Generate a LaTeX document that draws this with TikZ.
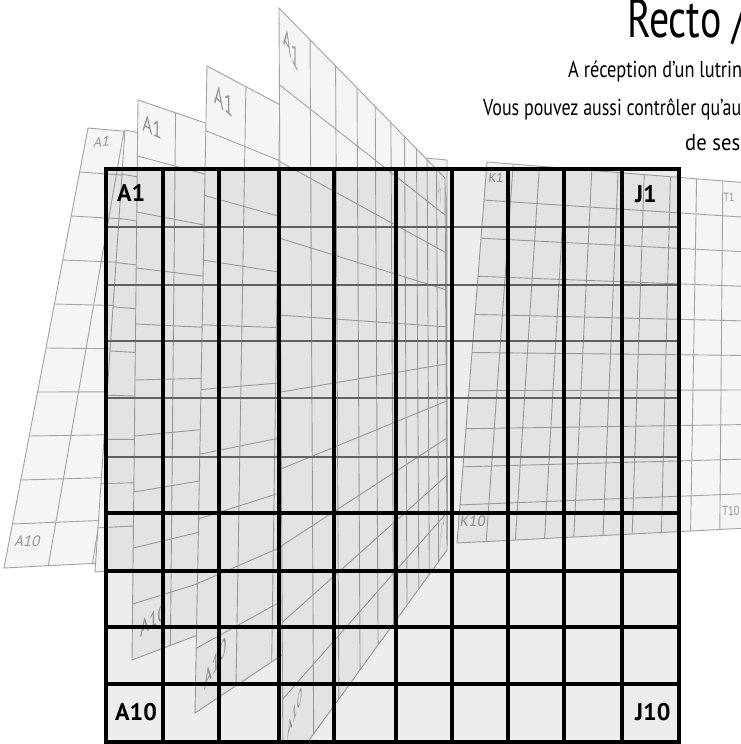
\documentclass[tikz,border=0pt]{standalone}
\usepackage{fontspec}
\setmainfont{PT Sans}
\usepackage{graphicx}
\newlength\lwtwo
\tikzset{
  sheetline/.style={draw=black!36, line width=0.9pt},
  sheetfill/.style={fill=black!4},
  pagelabel/.style={text=black!42, inner sep=0pt},
  gridv/.style={line width=3.6pt, draw=black},
  gridhl/.style={line width=2.6pt, draw=black!62},
  gridhd/.style={line width=3.6pt, draw=black},
  gridlabel/.style={inner sep=0pt, anchor=base west, font=\fontsize{24}{24}\selectfont\bfseries},
  titletext/.style={inner sep=0pt, anchor=base west, text=black}
}
\newcommand\drawsheet[9]{%
  \fill[sheetfill] (#1,#2) -- (#3,#4) -- (#5,#6) -- (#7,#8) -- cycle;
  \foreach \kk in {1,...,9}{%
    \pgfmathsetmacro\spar{\kk/10}%
    \pgfmathsetmacro\tpar{\spar*#9/((1-\spar)+\spar*#9)}%
    \draw[sheetline] ({#1+\tpar*(#3-#1)},{#2+\tpar*(#4-#2)}) -- ({#7+\tpar*(#5-#7)},{#8+\tpar*(#6-#8)});
  }%
  \foreach \kk in {1,...,9}{%
    \pgfmathsetmacro\vpar{\kk/10}%
    \draw[sheetline] ({#1+\vpar*(#7-#1)},{#2+\vpar*(#8-#2)}) -- ({#3+\vpar*(#5-#3)},{#4+\vpar*(#6-#4)});
  }%
  \draw[sheetline] (#1,#2) -- (#3,#4) -- (#5,#6) -- (#7,#8) -- cycle;
}
\begin{document}
\settowidth\lwtwo{\fontsize{23}{23}\selectfont Vous pouvez aussi contrôler qu’au}%
\pgfmathsetmacro\linefac{258/\lwtwo}%
\begin{tikzpicture}[x=1pt,y=-1pt]
\useasboundingbox (0,0) rectangle (741,744);
\clip (0,0) rectangle (741,744);

% right page K..T
\drawsheet{487}{162}{749}{183}{749}{528}{457}{543}{1}
\node[pagelabel, font=\fontsize{13}{13}\selectfont, xslant=0.1] (rK1) at (496,178) {K1};
\node[pagelabel, font=\fontsize{12}{12}\selectfont, xscale=0.8] (rT1) at (729,197) {T1};
\node[pagelabel, font=\fontsize{15}{15}\selectfont, xslant=0.15] (rK10) at (473,521) {K10};
\node[pagelabel, font=\fontsize{13}{13}\selectfont, xscale=0.8] (rT10) at (731,511) {T10};

% flat left page
\drawsheet{88}{128}{447}{160}{447}{545}{4}{568}{1}
\node[pagelabel, font=\fontsize{14}{14}\selectfont, xslant=0.25, rotate=4] (l1a) at (102,142) {A1};
\node[pagelabel, font=\fontsize{15}{15}\selectfont, xslant=0.25] (l1b) at (28,541) {A10};

% slightly turned page
\drawsheet{125}{130}{446}{195}{447}{545}{95}{572}{1.15}

% turning pages
\drawsheet{138}{100}{446}{205}{447}{540}{132}{660}{1.25}
\node[pagelabel, font=\fontsize{23}{23}\selectfont, xscale=0.75, yslant=-0.35] (l2a) at (152,127) {A1};
\node[pagelabel, font=\fontsize{22}{22}\selectfont, xscale=0.7, yslant=0.55] (l2b) at (153,620) {A10};

\drawsheet{207}{66}{446}{193}{447}{545}{195}{713}{1.75}
\node[pagelabel, font=\fontsize{27}{27}\selectfont, xscale=0.6, yslant=-0.55] (l3a) at (224,101) {A1};
\node[pagelabel, font=\fontsize{24}{24}\selectfont, xscale=0.55, yslant=1.0] (l3b) at (216,663) {A10};

\drawsheet{279}{8}{445}{178}{447}{550}{283}{776}{2.07}
\node[pagelabel, font=\fontsize{28}{28}\selectfont, xscale=0.5, yslant=-0.95] (l4a) at (291,49) {A1};
\node[pagelabel, font=\fontsize{20}{20}\selectfont, xscale=0.45, yslant=1.3] (l4b) at (295,713) {A10};
\node[pagelabel, font=\fontsize{16}{16}\selectfont, xscale=0.2, yslant=-1] (l4c) at (440,193) {J1};
\node[pagelabel, font=\fontsize{16}{16}\selectfont, xscale=0.2, yslant=1.4] (l4d) at (443,527) {J10};

% main grid
\fill[black, opacity=0.07] (106,169) rectangle (679,742);
\foreach \gy in {227,285,341,398,457}{\draw[gridhl] (106,\gy) -- (679,\gy);}
\foreach \gy in {513,571,627,684}{\draw[gridhd] (106,\gy) -- (679,\gy);}
\foreach \gx in {163,219,279,334,396,452,508,564,622}{\draw[gridv] (\gx,169) -- (\gx,742);}
\draw[gridv] (106,169) rectangle (679,742);
\node[gridlabel] (gA1) at (117,201) {A1};
\node[gridlabel] (gJ1) at (635,202) {J1};
\node[gridlabel] (gA10) at (115,720) {A10};
\node[gridlabel] (gJ10) at (635,720) {J10};

% title text
\node[titletext] (title) at (627,37) {\fontsize{54}{54}\selectfont\scalebox{0.74}[1]{Recto /}};
\node[titletext] (line1) at (568,77) {\fontsize{23}{23}\selectfont\resizebox{174pt}{\height}{A réception d’un lutrin}};
\node[titletext] (line2) at (483,115) {\fontsize{23}{23}\selectfont\scalebox{\linefac}[1]{Vous pouvez aussi contrôler qu’au}};
\node[titletext] (line3) at (685,150) {\fontsize{23}{23}\selectfont\resizebox{55pt}{\height}{de ses}};
\end{tikzpicture}
\end{document}
